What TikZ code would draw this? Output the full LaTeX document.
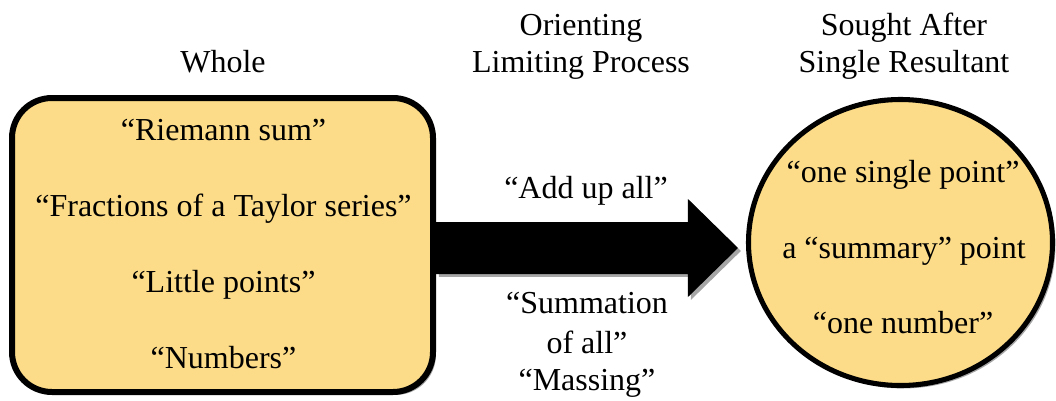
\documentclass[tikz,border=0pt]{standalone}
\usepackage{fontspec}
\setmainfont{Liberation Serif}
\usetikzlibrary{calc,shapes.geometric,shadows}

\definecolor{goldfill}{RGB}{252,220,136}

\tikzset{
  softshadow/.style={drop shadow={shadow xshift=2.2pt, shadow yshift=-2.2pt, opacity=0.35, fill=black}},
  wholebox/.style={draw=black, line width=4.5pt, fill=goldfill, rounded corners=30pt,
    minimum width=315.75pt, minimum height=220.5pt, softshadow},
  resultblob/.style={ellipse, draw=black, line width=3.8pt, fill=goldfill,
    minimum width=228pt, minimum height=214.5pt, inner sep=0pt, softshadow},
  bigarrow/.style={fill=black, softshadow},
  txt/.style={anchor=base, inner sep=0pt}
}

\begin{document}
\begin{tikzpicture}[x=0.75pt, y=-0.75pt, every node/.style={font=\fontsize{24}{28}\selectfont}]

\useasboundingbox (0,0) rectangle (1056,400);

% column headings
\node[txt] (hwhole) at (223,72) {Whole};
\node[txt] (horient) at (581,35) {Orienting};
\node[txt] (hlimit) at (581,72) {Limiting Process};
\node[txt] (hsought) at (904,35) {Sought After};
\node[txt] (hsingle) at (904,72) {Single Resultant};

% left box (whole)
\node[wholebox] (whole) at (222.5,245) {};
\node[txt] (w1) at (223.5,140) {“Riemann sum”};
\node[txt] (w2) at (223.5,216) {“Fractions of a Taylor series”};
\node[txt] (w3) at (223.5,292) {“Little points”};
\node[txt] (w4) at (223.5,368) {“Numbers”};

% right circle (resultant)
\node[resultblob] (result) at (900.5,242.5) {};
\node[txt] (r1) at (903,182) {“one single point”};
\node[txt] (r2) at (904,258) {a “summary” point};
\node[txt] (r3) at (903,333) {“one number”};

% fat arrow from box to circle
\coordinate (tail) at ($(whole.east)+(0,3)$);
\coordinate (tip) at ($(result.west)+(-8,0)$);
\fill[bigarrow] ($(tail)+(0,-26)$) -- ($(tail -| tip)+(-50,-26)$) -- ($(tail -| tip)+(-50,-49)$)
  -- (tail -| tip) -- ($(tail -| tip)+(-50,49)$) -- ($(tail -| tip)+(-50,26)$)
  -- ($(tail)+(0,26)$) -- cycle;

% arrow labels
\node[txt] (a1) at (586,198) {“Add up all”};
\node[txt] (a2) at (587,313) {“Summation};
\node[txt] (a3) at (587,353) {of all”};
\node[txt] (a4) at (587,390) {“Massing”};

\end{tikzpicture}
\end{document}
